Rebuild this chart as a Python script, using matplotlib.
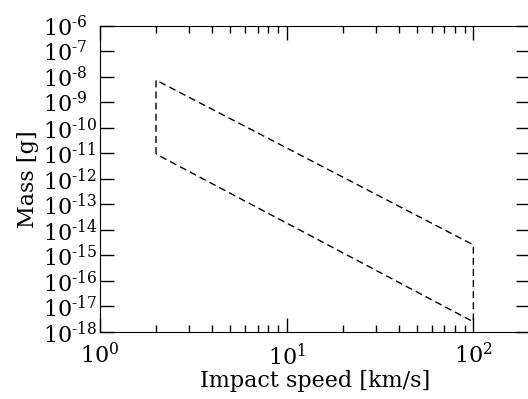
import numpy as np
import matplotlib
matplotlib.use("Agg")
import matplotlib.pyplot as plt
from matplotlib.ticker import FixedLocator, FuncFormatter, LogLocator, NullFormatter

# Region of allowed impact speed / mass (dashed outline)
speed = [2.0, 2.0, 100.0, 100.0, 2.0]          # km/s
mass = [9.5e-12, 7.5e-9, 2.6e-15, 2.5e-18, 9.5e-12]  # g

x_limits = (1.0, 200.0)
y_limits = (1e-18, 1e-6)
y_exponents = list(range(-18, -5))

plt.rcParams['font.family'] = 'DejaVu Serif'
plt.rcParams['mathtext.fontset'] = 'dejavuserif'

fig = plt.figure(figsize=(5.28, 3.99), dpi=100)
ax = fig.add_axes([0.189, 0.168, 0.814, 0.767])

ax.plot(speed, mass, 'k--', lw=1.0, dashes=(5, 3))

ax.set_xscale('log')
ax.set_yscale('log')
ax.set_xlim(*x_limits)
ax.set_ylim(*y_limits)

ax.yaxis.set_major_locator(FixedLocator([10.0 ** e for e in y_exponents]))
ax.yaxis.set_minor_locator(FixedLocator([]))
ax.xaxis.set_minor_locator(LogLocator(base=10, subs=np.arange(2, 10)))
ax.xaxis.set_minor_formatter(NullFormatter())


def log_label(v, pos):
    e = int(round(np.log10(v)))
    sign = r'\text{-}' if e < 0 else ''
    return r'$10^{%s%d}$' % (sign, abs(e))


ax.xaxis.set_major_formatter(FuncFormatter(log_label))
ax.yaxis.set_major_formatter(FuncFormatter(log_label))

ax.tick_params(which='both', direction='in', top=True, right=True, labelsize=16)
ax.tick_params(which='major', length=10, width=1)
ax.tick_params(which='minor', length=5, width=1)
ax.tick_params(axis='x', pad=8)
# y labels are left-aligned in the original
ax.tick_params(axis='y', pad=41)
for lbl in ax.get_yticklabels():
    lbl.set_horizontalalignment('left')

ax.set_xlabel('Impact speed [km/s]', fontsize=16, labelpad=0)
ax.set_ylabel('Mass [g]', fontsize=16, labelpad=3)

fig.savefig('out.png', dpi=100)
